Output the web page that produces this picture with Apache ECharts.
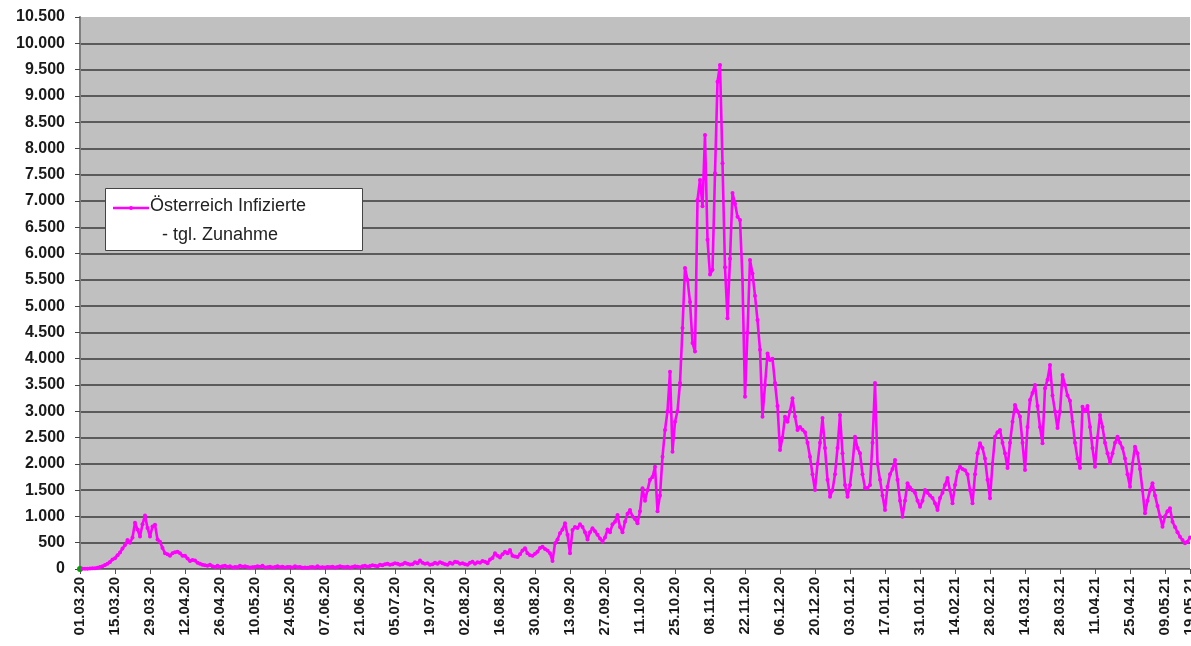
<!DOCTYPE html>
<html>
<head>
<meta charset="utf-8">
<script src="https://cdn.jsdelivr.net/npm/echarts@6/dist/echarts.min.js"></script>
<style>
html,body{margin:0;padding:0;background:#fff;}
#c{width:1191px;height:646px;}
</style>
</head>
<body>
<div id="c"></div>
<script>
// Daily new infections, Austria, by month
const mar20 = [0,4,6,6,8,14,15,24,40,51,75,102,135,180, 205,260,314,390,456,550,500, 600,880,750,620,850,1020,780, 620,810,840];
const apr20 = [560,520,400,300, 280,250,300,320,330,300,250, 250,200,150,170,160,120,100, 80,70,60,80,50,40,60, 40,50,60,40,50];
const may20 = [30,40,35,60,45,50,40,30,35,40,50,45,60,30,35,45,30,40,50,35,45,30,40,40,30,50,35,40,25,30,25];
const jun20 = [35,40,30,50,30,35,30,40,35,45,30,40,50,40,35,45,30,40,50,45,35,50,60,45,55,70,60,50,80,70];
const jul20 = [90,100,80,90,110,100,80,90,120,100,85,90,130,110,160,120,100,110,80,90,120,100,130,110,90,80,120,100,140,130,100];
const aug20 = [110,90,80,120,140,100,130,120,150,140,110,180,210,300,250,220,280,330,300,360,250,240,230,280,350,395,300,260,250,290,330];
const sep20 = [400,425,380,350,300, 150,490,560,680,750,870,650, 300,740,800,780,850,800,700, 560,700,775,720,650,580,520, 600,750,700,850];
const oct20 = [900,1027,800, 700,900,1050,1122,1000,950,870, 1100,1535,1300,1500,1700,1750,1946, 1100,1400,2136,2644,3000,3754,2232, 2800,3000,3540,4584,5725,5500,5080];
const nov20 = [4300,4135,7020,7400,6900,8255,6262, 5600,5690,7530,9270,9587,7720,5740, 4770,5900,7150,6950,6700,6640,5500, 3277,4500,5878,5620,5200,4736,4170, 2897,3500];
const dec20 = [4100,3975,4000,3538,3100,2263,2500, 2897,2800,3000,3250,2900,2644,2700, 2650,2600,2400,2136,1800,1503,2000, 2400,2870,2300,1700,1376,1500,1800, 2300,2930,2200];
const jan21 = [1600,1376,1600,2000,2517,2300,2200, 1800,1540,1540,1600,2400,3538,2000, 1700,1400,1122,1566,1800,1900,2073, 1700,1300,995,1300,1630,1550,1500, 1450,1300,1185];
const feb21 = [1300,1503,1450,1400,1350,1250,1122, 1350,1450,1600,1730,1500,1250,1600, 1850,1946,1900,1880,1800,1500,1250, 1800,2200,2390,2300,2100,1700,1345];
const mar21 = [2000,2517,2600,2644,2400,2200,1920, 2400,2800,3120,3000,2900,2400,1883, 2700,3215,3350,3500,3100,2700,2390, 3440,3600,3880,3300,3000,2680,3000, 3690,3500,3300];
const apr21 = [3200,2800,2400,2100,1920,3088,3000, 3100,2700,2300,1946,2500,2930,2700, 2400,2200,2016,2200,2400,2517,2400, 2300,2100,1800,1566,2000,2327,2200, 1900,1500];
const may21 = [1060,1300,1500,1630,1400,1200,1000,805,1000,1100,1155,900,800,700,615,550,490,520,600];

const values = [].concat(mar20, apr20, may20, jun20, jul20, aug20, sep20, oct20, nov20, dec20, jan21, feb21, mar21, apr21, may21);

const seriesName = 'Österreich Infizierte - tgl. Zunahme';
const legendLines = ['Österreich Infizierte', '- tgl. Zunahme'];
const startDate = [2020, 2, 1]; // 01.03.20
const labelStep = 14;

// category labels (one per day)
const categories = [];
for (let i = 0; i < values.length; i++) {
  const d = new Date(Date.UTC(startDate[0], startDate[1], startDate[2] + i));
  const dd = String(d.getUTCDate()).padStart(2, '0');
  const mm = String(d.getUTCMonth() + 1).padStart(2, '0');
  const yy = String(d.getUTCFullYear()).slice(2);
  categories.push(dd + '.' + mm + '.' + yy);
}
const lastIdx = categories.length - 1;
const showLabel = (idx) => idx % labelStep === 0 || idx === lastIdx;

const seriesData = values.map((v, i) => i === 0
  ? { value: v, itemStyle: { color: '#00a000' }, symbolSize: 6 }
  : v);

const chart = echarts.init(document.getElementById('c'), null, { renderer: 'canvas' });
const font = '"Liberation Sans", Arial, sans-serif';

chart.setOption({
  animation: false,
  backgroundColor: '#ffffff',
  textStyle: { fontFamily: font },
  grid: {
    left: 80, right: 1, top: 17, bottom: 77,
    outerBoundsMode: 'none', containLabel: false,
    show: true, backgroundColor: '#c0c0c0', borderWidth: 0
  },
  xAxis: {
    type: 'category',
    data: categories,
    boundaryGap: false,
    axisLine: { show: true, lineStyle: { color: '#808080', width: 1 } },
    axisTick: { show: true, interval: (idx) => showLabel(idx), length: 5, lineStyle: { color: '#555' } },
    axisLabel: {
      interval: (idx) => showLabel(idx),
      rotate: 90, margin: 8, hideOverlap: false,
      fontFamily: font, fontSize: 15, fontWeight: 'bold', color: '#1a1a1a'
    },
    splitLine: { show: false }
  },
  yAxis: {
    type: 'value',
    min: 0, max: 10500, interval: 500,
    axisLine: { show: true, lineStyle: { color: '#808080', width: 2 } },
    axisTick: { show: true, length: 5, lineStyle: { color: '#444' } },
    axisLabel: {
      margin: 15,
      fontFamily: font, fontSize: 16, fontWeight: 'bold', color: '#1a1a1a',
      formatter: (v) => String(v).replace(/\B(?=(\d{3})+(?!\d))/g, '.')
    },
    splitLine: { show: true, showMaxLine: false, lineStyle: { color: '#3a3a3a', width: 1.6 } }
  },
  graphic: [
    { type: 'rect', left: 105, top: 188, shape: { width: 257, height: 62 },
      style: { fill: '#ffffff', stroke: '#444', lineWidth: 1 }, z: 100 },
    { type: 'line', shape: { x1: 113, y1: 208, x2: 149, y2: 208 },
      style: { stroke: '#ff00ff', lineWidth: 2.5 }, z: 101 },
    { type: 'circle', shape: { cx: 131, cy: 208, r: 2 },
      style: { fill: '#ff00ff' }, z: 102 },
    { type: 'text', left: 150, top: 197,
      style: { text: legendLines[0], font: '18px ' + font, fill: '#222' }, z: 102 },
    { type: 'text', left: 162, top: 226,
      style: { text: legendLines[1], font: '18px ' + font, fill: '#222' }, z: 102 }
  ],
  series: [{
    name: seriesName,
    type: 'line',
    data: seriesData,
    showSymbol: true,
    showAllSymbol: true,
    symbol: 'circle',
    symbolSize: 4,
    color: '#ff00ff',
    itemStyle: { color: '#ff00ff' },
    lineStyle: { color: '#ff00ff', width: 2.6 },
    z: 5
  }]
});
</script>
</body>
</html>
